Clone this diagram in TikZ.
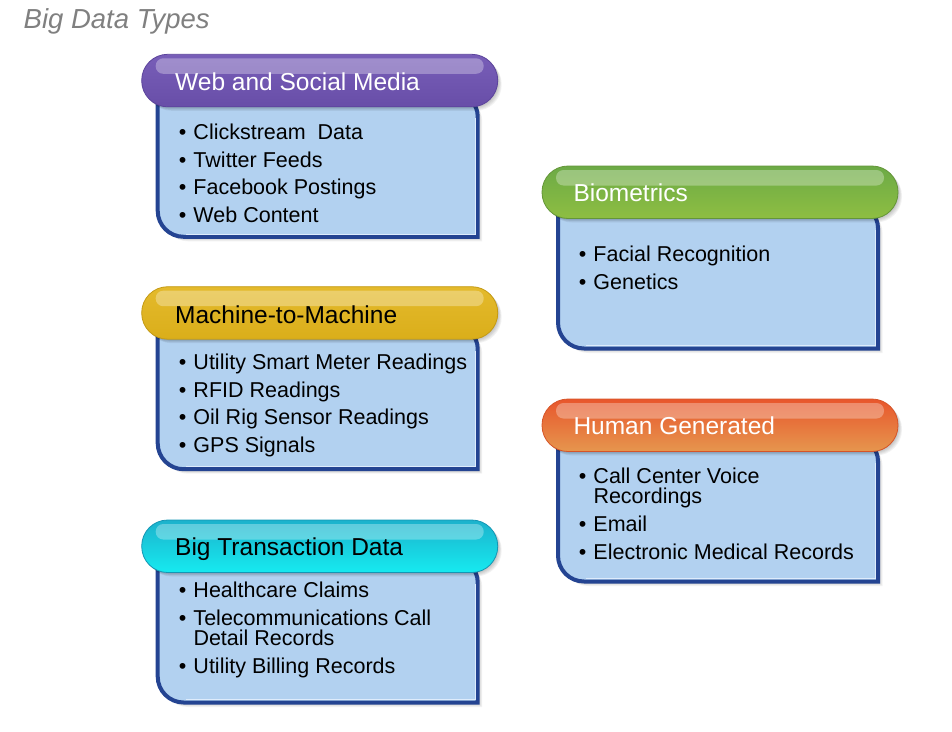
\documentclass[tikz,border=0pt]{standalone}
\usepackage{fontspec}
\setmainfont{Liberation Sans}

% card colours
\definecolor{bodyfill}{RGB}{178,209,240}
\definecolor{bodyrim}{RGB}{36,68,146}
\definecolor{bodyshine}{RGB}{222,236,252}
\definecolor{webtop}{RGB}{120,94,184}
\definecolor{webbot}{RGB}{104,78,168}
\definecolor{webrim}{RGB}{92,68,156}
\definecolor{m2mtop}{RGB}{228,186,44}
\definecolor{m2mbot}{RGB}{218,174,26}
\definecolor{m2mrim}{RGB}{196,154,20}
\definecolor{trntop}{RGB}{28,178,204}
\definecolor{trnbot}{RGB}{22,234,240}
\definecolor{trnrim}{RGB}{20,150,180}
\definecolor{biotop}{RGB}{108,170,70}
\definecolor{biobot}{RGB}{142,190,66}
\definecolor{biorim}{RGB}{100,150,56}
\definecolor{humtop}{RGB}{232,86,44}
\definecolor{humbot}{RGB}{230,150,78}
\definecolor{humrim}{RGB}{214,84,40}
\definecolor{titlegray}{RGB}{128,128,128}

\tikzset{
  bodypath/.style={insert path={(16,-40) -- (314,-40) arc[start angle=90,end angle=0,radius=22]
      -- (336,-182.5) -- (42,-182.5) arc[start angle=270,end angle=180,radius=26] -- cycle}},
  pillpath/.style={insert path={[rounded corners=26pt] (0,0) rectangle (356,-52.5)}},
  itemtext/.style={anchor=base west, inner sep=0pt, text=black,
      font=\fontsize{21.5}{24}\selectfont},
  headtext/.style={anchor=base west, inner sep=0pt,
      font=\fontsize{24.5}{28}\selectfont},
}

% one card: pill header over a light blue body
% #1 left x, #2 top y (downwards), #3 top colour, #4 bottom colour, #5 rim colour
\newcommand\bdcard[5]{%
  \begin{scope}[shift={(#1,-#2)}]
    \foreach \k in {1,...,5}{\fill[black,opacity=0.05,shift={(\k*0.9,-\k*0.9)}][bodypath];}
    \path[fill=bodyfill,draw=bodyrim,line width=4pt][bodypath];
    \draw[bodyshine,line width=0.8pt] (44,-179.6) -- (333.4,-179.6) -- (333.4,-64);
    \foreach \k in {1,...,5}{\fill[black,opacity=0.05,shift={(\k*0.8,-\k*0.8)}][pillpath];}
    \shade[top color=#3,bottom color=#4,draw=#5,line width=0.8pt][pillpath];
    \fill[white,opacity=0.30,rounded corners=7.5pt] (14,-4) rectangle (342,-19.5);
  \end{scope}}

% one bullet line and one wrapped continuation line
\newcommand\bditem[4]{\node[itemtext] (#1) at (#2,-#3) {\makebox[14.6pt][l]{\textbullet}#4};}
\newcommand\bdcont[4]{\node[itemtext] (#1) at (#2+14.6,-#3) {#4};}

\begin{document}
\begin{tikzpicture}[x=1pt,y=1pt]
  \useasboundingbox (0,0) rectangle (952,-731);

  \node[anchor=base west,inner sep=0pt,text=titlegray,
        font=\fontsize{27.5}{31}\selectfont\itshape] (title) at (23.5,-28.5) {Big Data Types};

  % Web and Social Media
  \bdcard{141.7}{54.3}{webtop}{webbot}{webrim}
  \node[headtext,text=white] (web) at (175,-90.7) {Web and Social Media};
  \bditem{web1}{178.7}{139.5}{Clickstream\ \ Data}
  \bditem{web2}{178.7}{167.2}{Twitter Feeds}
  \bditem{web3}{178.7}{194.9}{Facebook Postings}
  \bditem{web4}{178.7}{222.6}{Web Content}

  % Machine-to-Machine
  \bdcard{141.7}{286.7}{m2mtop}{m2mbot}{m2mrim}
  \node[headtext,text=black] (m2m) at (175,-323.3) {Machine-to-Machine};
  \bditem{m2m1}{178.7}{369.3}{Utility Smart Meter Readings}
  \bditem{m2m2}{178.7}{397}{RFID Readings}
  \bditem{m2m3}{178.7}{424.7}{Oil Rig Sensor Readings}
  \bditem{m2m4}{178.7}{452.4}{GPS Signals}

  % Big Transaction Data
  \bdcard{141.7}{520}{trntop}{trnbot}{trnrim}
  \node[headtext,text=black] (trn) at (175,-555) {Big Transaction Data};
  \bditem{trn1}{178.7}{597.3}{Healthcare Claims}
  \bditem{trn2}{178.7}{625}{Telecommunications Call}
  \bdcont{trn2b}{178.7}{645}{Detail Records}
  \bditem{trn3}{178.7}{673.3}{Utility Billing Records}

  % Biometrics
  \bdcard{542}{166}{biotop}{biobot}{biorim}
  \node[headtext,text=white] (bio) at (573.3,-201.7) {Biometrics};
  \bditem{bio1}{578.7}{261.7}{Facial Recognition}
  \bditem{bio2}{578.7}{289.3}{Genetics}

  % Human Generated
  \bdcard{542}{399}{humtop}{humbot}{humrim}
  \node[headtext,text=white] (hum) at (573.3,-434.3) {Human Generated};
  \bditem{hum1}{578.7}{483.3}{Call Center Voice}
  \bdcont{hum1b}{578.7}{503.3}{Recordings}
  \bditem{hum2}{578.7}{531.7}{Email}
  \bditem{hum3}{578.7}{559}{Electronic Medical Records}
\end{tikzpicture}
\end{document}
